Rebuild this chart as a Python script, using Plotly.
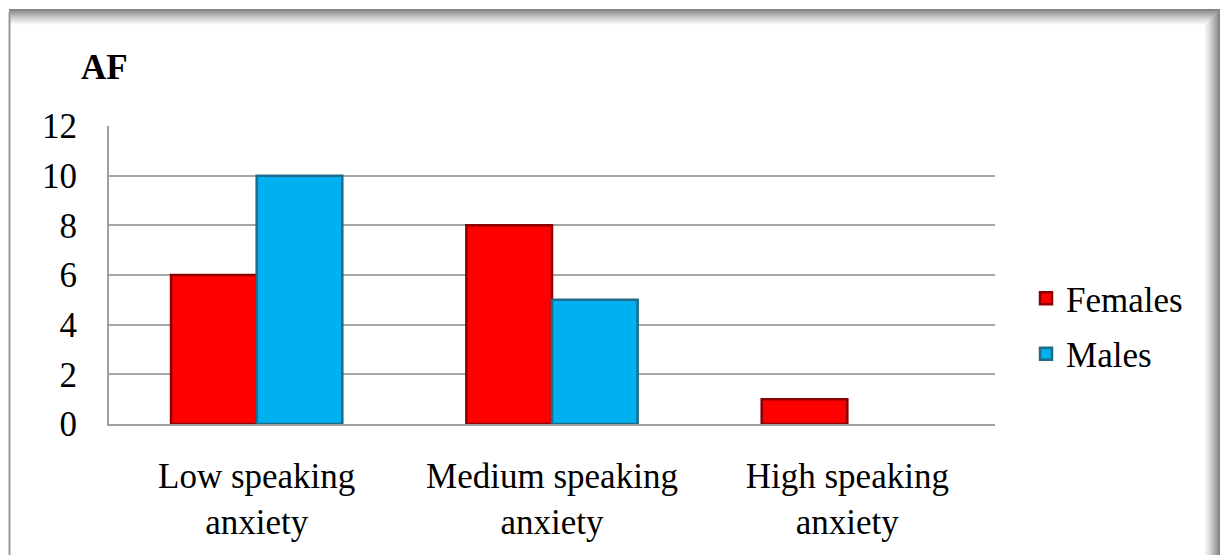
import plotly.graph_objects as go

# Speaking anxiety levels by gender (absolute frequency)
categories = ["Low speaking<br>anxiety", "Medium speaking<br>anxiety", "High speaking<br>anxiety"]
females = [6, 8, 1]
males = [10, 5, 0]
y_ticks = [0, 2, 4, 6, 8, 10, 12]

FONT = "Liberation Serif"
FS = 35


def edge_widths(values, w=2.5):
    # no outline on empty bars
    return [w if v > 0 else 0 for v in values]


fig = go.Figure()
fig.add_trace(go.Bar(
    name="Females", x=categories, y=females, legendgroup="f",
    marker=dict(color="#FF0000", line=dict(color="#8B0000", width=edge_widths(females))),
))
fig.add_trace(go.Bar(
    name="Males", x=categories, y=males, legendgroup="m",
    marker=dict(color="#00B0F0", line=dict(color="#1F6C8A", width=edge_widths(males))),
))

# plot-area geometry in pixels, used to place the frame in paper coordinates
L, R, T, B = 109, 995, 126, 424
W, H = R - L, B - T


def px(x):
    return (x - L) / W


def py(y):
    return (B - y) / H


shapes = []
# outer chart frame: thin left edge plus soft shadow along top and right
shapes.append(dict(type="line", xref="paper", yref="paper",
                   x0=px(9.5), x1=px(9.5), y0=py(12), y1=py(560),
                   line=dict(color="#9A9A9A", width=2)))
steps = 16
for i in range(steps):
    a = 0.8 * (1 - i / steps) ** 1.2
    shapes.append(dict(type="rect", xref="paper", yref="paper",
                       x0=px(9), x1=px(1220 - i), y0=py(9 + i), y1=py(10 + i),
                       line=dict(width=0), fillcolor=f"rgba(100,100,100,{a:.3f})", layer="below"))
    shapes.append(dict(type="rect", xref="paper", yref="paper",
                       x0=px(1219 - i), x1=px(1220 - i), y0=py(10 + i), y1=py(560),
                       line=dict(width=0), fillcolor=f"rgba(100,100,100,{a:.3f})", layer="below"))

fig.update_layout(
    width=1220, height=555,
    margin=dict(l=L, r=1220 - R, t=T, b=555 - B),
    paper_bgcolor="white", plot_bgcolor="white",
    barmode="group", bargap=0.42, bargroupgap=0,
    font=dict(family=FONT, size=FS, color="black"),
    showlegend=True,
    legend=dict(x=1.035, y=0.52, xanchor="left", yanchor="top",
                font=dict(family=FONT, size=FS, color="black"), bgcolor="rgba(0,0,0,0)",
                tracegroupgap=7, itemwidth=30),
    shapes=shapes,
    annotations=[dict(text="<b>AF</b>", xref="paper", yref="paper",
                      x=px(79), y=py(68), xanchor="left", yanchor="middle",
                      showarrow=False, font=dict(family=FONT, size=FS, color="black"))],
)
fig.update_xaxes(showgrid=False, showline=True, linecolor="#A0A0A0", linewidth=2,
                 ticks="", ticklabelstandoff=20, tickfont=dict(family=FONT, size=FS, color="black"))
fig.update_yaxes(range=[0, 12], tickvals=y_ticks, showgrid=True, gridcolor="#A6A6A6",
                 gridwidth=2, showline=True, linecolor="#A0A0A0", linewidth=2,
                 zeroline=False, ticks="", ticklabelstandoff=23,
                 tickfont=dict(family=FONT, size=FS, color="black"))

fig.write_html("out.html")
